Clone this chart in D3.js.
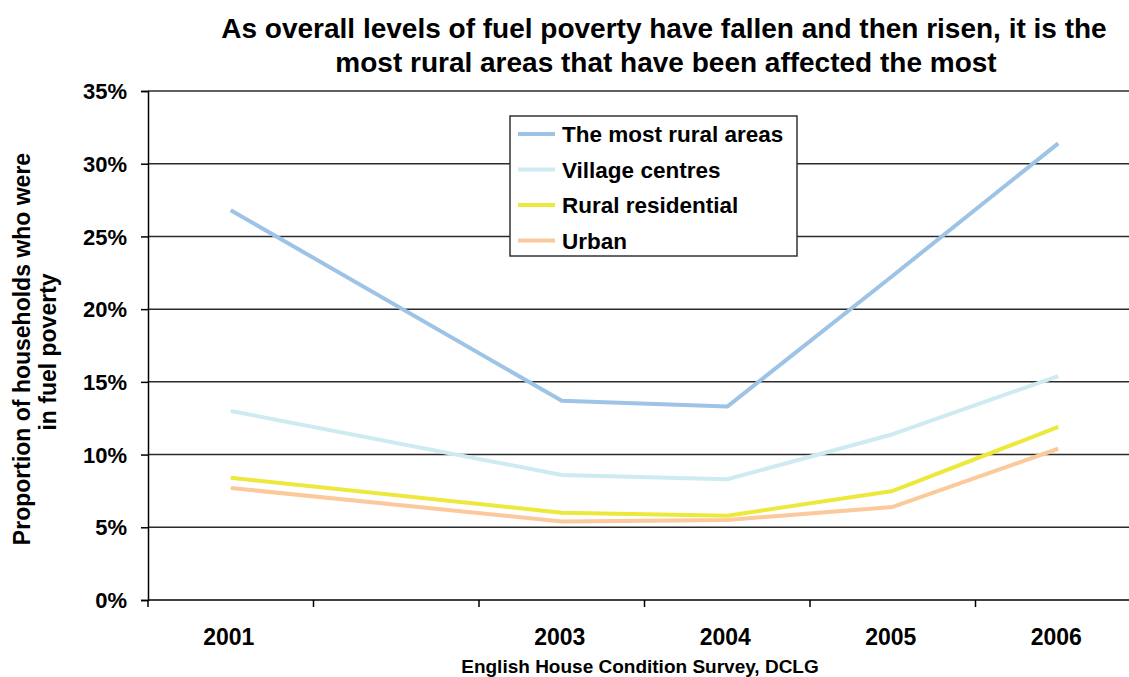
<!DOCTYPE html>
<html>
<head>
<meta charset="utf-8">
<script src="https://cdn.jsdelivr.net/npm/d3@7"></script>
<style>
  html, body { margin: 0; padding: 0; background: #fff; }
  svg { display: block; }
  text { font-family: "Liberation Sans", Arial, sans-serif; fill: #000; }
</style>
</head>
<body>
<svg id="chart" width="1129" height="677"></svg>
<script>
// Survey years (2002 has no survey data) and their axis labels
const years = ["2001", "2002", "2003", "2004", "2005", "2006"];
const yearLabels = ["2001", "", "2003", "2004", "2005", "2006"];

// Share of households in fuel poverty, by settlement type
const mostRural      = [0.268, null, 0.137, 0.133, 0.223, 0.314];
const villageCentres = [0.130, null, 0.086, 0.083, 0.114, 0.154];
const ruralResident  = [0.084, null, 0.060, 0.058, 0.075, 0.119];
const urban          = [0.077, null, 0.054, 0.055, 0.064, 0.104];

const seriesNames  = ["The most rural areas", "Village centres", "Rural residential", "Urban"];
const seriesColors = ["#9dc3e6", "#cdebf0", "#ece83c", "#fbc99b"];
const seriesValues = [mostRural, villageCentres, ruralResident, urban];

const yTicks = [0, 0.05, 0.10, 0.15, 0.20, 0.25, 0.30, 0.35];

const svg = d3.select("#chart");
const plot = { left: 148, right: 1141, top: 91, bottom: 600 };

const x = d3.scaleBand().domain(years).range([plot.left, plot.right]);
const y = d3.scaleLinear().domain([0, 0.35]).range([plot.bottom, plot.top]);

// Horizontal gridlines
svg.append("g")
  .selectAll("line")
  .data(yTicks.filter(t => t > 0))
  .join("line")
  .attr("x1", plot.left).attr("x2", plot.right)
  .attr("y1", d => y(d)).attr("y2", d => y(d))
  .attr("stroke", "#2b2b2b").attr("stroke-width", 1.5);

// Y axis
const yAxis = svg.append("g")
  .attr("transform", `translate(${plot.left},0)`)
  .call(d3.axisLeft(y).tickValues(yTicks).tickFormat(d3.format(".0%")).tickSize(7).tickPadding(14));
yAxis.select(".domain").attr("stroke", "#000").attr("stroke-width", 1.5);
yAxis.selectAll(".tick line").attr("stroke", "#000").attr("stroke-width", 1.5);
yAxis.selectAll(".tick text")
  .attr("font-size", 22).attr("font-weight", "bold")
  .attr("font-family", "'Liberation Sans', Arial, sans-serif").attr("fill", "#000")
  .attr("dy", "0.35em");

// X axis: ticks at category boundaries, labels centred in each band
const xg = svg.append("g").attr("transform", `translate(0,${plot.bottom})`);
xg.append("line")
  .attr("x1", plot.left).attr("x2", plot.right)
  .attr("y1", 0).attr("y2", 0)
  .attr("stroke", "#000").attr("stroke-width", 1.5);
xg.selectAll("line.tick")
  .data(years.map(d => x(d)).concat([x(years[years.length - 1]) + x.bandwidth()]))
  .join("line").attr("class", "tick")
  .attr("x1", d => d).attr("x2", d => d)
  .attr("y1", 0).attr("y2", 7)
  .attr("stroke", "#000").attr("stroke-width", 1.5);
xg.selectAll("text")
  .data(years)
  .join("text")
  .attr("x", d => x(d) + x.bandwidth() / 2 - 2)
  .attr("y", 45)
  .attr("text-anchor", "middle")
  .attr("font-size", 23).attr("font-weight", "bold")
  .text((d, i) => yearLabels[i]);

// Series lines (gap year skipped so each line joins the surveyed years)
const line = d3.line()
  .x(d => x(d.year) + x.bandwidth() / 2)
  .y(d => y(d.value));

svg.append("g")
  .selectAll("path")
  .data(seriesValues.map((vals, i) => ({
    color: seriesColors[i],
    points: vals.map((v, j) => ({ year: years[j], value: v })).filter(p => p.value !== null)
  })))
  .join("path")
  .attr("d", d => line(d.points))
  .attr("fill", "none")
  .attr("stroke", d => d.color)
  .attr("stroke-width", 4)
  .attr("stroke-linejoin", "round");

// Legend
const legend = svg.append("g").attr("transform", "translate(510,116)");
legend.append("rect")
  .attr("width", 287).attr("height", 140)
  .attr("fill", "#fff").attr("stroke", "#333").attr("stroke-width", 1.5);
const rows = legend.selectAll("g.row")
  .data(seriesNames)
  .join("g").attr("class", "row")
  .attr("transform", (d, i) => `translate(0,${18 + i * 35.5})`);
rows.append("line")
  .attr("x1", 8).attr("x2", 45)
  .attr("y1", 0).attr("y2", 0)
  .attr("stroke", (d, i) => seriesColors[i])
  .attr("stroke-width", 4);
rows.append("text")
  .attr("x", 52).attr("y", 0).attr("dy", "0.36em")
  .attr("font-size", 22.5).attr("font-weight", "bold")
  .text(d => d);

// Title
const title = svg.append("text")
  .attr("text-anchor", "middle")
  .attr("font-size", 28).attr("font-weight", "bold");
title.append("tspan").attr("x", 664).attr("y", 38)
  .text("As overall levels of fuel poverty have fallen and then risen, it is the");
title.append("tspan").attr("x", 666).attr("y", 72)
  .text("most rural areas that have been affected the most");

// Y axis title
const yTitle = svg.append("text")
  .attr("transform", "translate(0,349) rotate(-90)")
  .attr("text-anchor", "middle")
  .attr("font-size", 23).attr("font-weight", "bold");
yTitle.append("tspan").attr("x", 0).attr("y", 30).text("Proportion of households who were");
yTitle.append("tspan").attr("x", -3).attr("y", 56).text("in fuel poverty");

// Source note
svg.append("text")
  .attr("x", 640).attr("y", 673)
  .attr("text-anchor", "middle")
  .attr("font-size", 19).attr("font-weight", "bold")
  .text("English House Condition Survey, DCLG");
</script>
</body>
</html>
